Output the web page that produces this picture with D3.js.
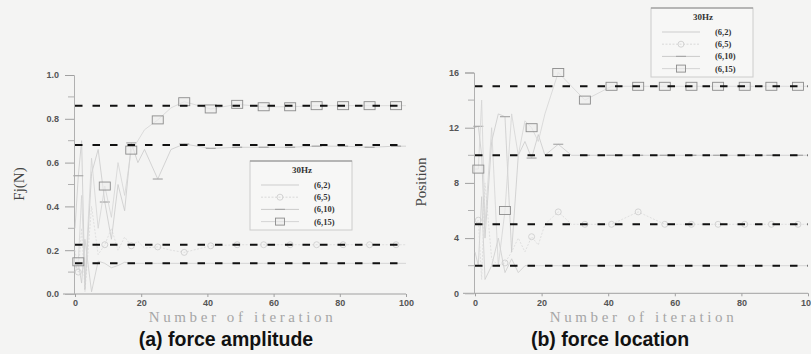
<!DOCTYPE html>
<html>
<head>
<meta charset="utf-8">
<script src="https://cdn.jsdelivr.net/npm/d3@7"></script>
<style>
  body { margin: 0; background: #f4f4f3; }
  svg { display: block; }
</style>
</head>
<body>
<div id="chart"></div>
<script>
// iterations at which the solver output was sampled
const iterations = [0, 1, 2, 3, 5, 7, 9, 11, 13, 15, 17, 19, 21, 25, 29, 33, 41, 49, 57, 65, 73, 81, 89, 97, 100];
// iterations that carry a marker symbol
const markerIterations = [1, 9, 17, 25, 33, 41, 49, 57, 65, 73, 81, 89, 97];

const seriesNames = ['(6,2)', '(6,5)', '(6,10)', '(6,15)'];
const legendTitle = '30Hz';

// (a) force amplitude Fj(N)
const amp62  = [0.12, 0.14, 0.05, 0.25, 0.01, 0.15, 0.14, 0.12, 0.13, 0.145, 0.14, 0.14, 0.14, 0.14, 0.14, 0.14, 0.14, 0.14, 0.14, 0.14, 0.14, 0.14, 0.14, 0.14, 0.14];
const amp65  = [0.20, 0.10, 0.30, 0.01, 0.40, 0.18, 0.225, 0.30, 0.20, 0.26, 0.22, 0.24, 0.21, 0.215, 0.20, 0.19, 0.22, 0.225, 0.225, 0.225, 0.225, 0.225, 0.225, 0.225, 0.225];
const amp610 = [0.30, 0.54, 0.70, 0.02, 0.55, 0.66, 0.42, 0.25, 0.50, 0.38, 0.69, 0.60, 0.66, 0.525, 0.66, 0.685, 0.665, 0.67, 0.67, 0.67, 0.675, 0.675, 0.67, 0.675, 0.675];
const amp615 = [0.10, 0.147, 0.45, 0.05, 0.62, 0.30, 0.493, 0.35, 0.60, 0.45, 0.657, 0.70, 0.75, 0.795, 0.85, 0.878, 0.845, 0.866, 0.855, 0.855, 0.86, 0.86, 0.86, 0.86, 0.86];
const ampTargets = [0.86, 0.68, 0.225, 0.14];
const ampTicks = [0, 0.2, 0.4, 0.6, 0.8, 1.0];
const ampMinor = [0.1, 0.3, 0.5, 0.7, 0.9];

// (b) force location
const pos62  = [3, 2, 7, 1, 2, 4, 1.5, 2.5, 1.5, 2, 2, 2, 2, 2, 2, 2, 2, 2, 2, 2, 2, 2, 2, 2, 2];
const pos65  = [5, 5.3, 1, 8, 2.5, 2, 2.2, 3, 4, 3, 4.1, 3.5, 5, 5.9, 5, 5, 5, 5.9, 5, 5, 5, 5, 5, 5, 5];
const pos610 = [12, 12.1, 10, 4, 11, 13, 12.8, 3, 10, 11, 9.8, 11.5, 10, 10.8, 10, 10, 10, 10, 10, 10, 10, 10, 10, 10, 10];
const pos615 = [9, 9, 14, 5, 12, 2, 6, 13, 10, 12.5, 12, 11, 13, 16, 15, 14, 15, 15, 15, 15, 15, 15, 15, 15, 15];
const posTargets = [15, 10, 5, 2];
const posTicks = [0, 4, 8, 12, 16];
const posMinor = [2, 6, 10, 14];

const xTicks = [0, 20, 40, 60, 80, 100];

const svg = d3.select('#chart').append('svg')
  .attr('width', 811)
  .attr('height', 354);

const lineColors = ['#cdcdcd', '#d9d9d9', '#cacaca', '#d4d4d4'];
const symbols = ['none', 'circle', 'bar', 'square'];

function drawMarker(g, kind, x, y, small) {
  if (kind === 'circle') {
    g.append('circle').attr('cx', x).attr('cy', y).attr('r', 3)
      .attr('fill', 'none').attr('stroke', '#cfcfcf').attr('stroke-width', 0.9);
  } else if (kind === 'bar') {
    g.append('line').attr('x1', x - 5).attr('x2', x + 5).attr('y1', y).attr('y2', y)
      .attr('stroke', '#a8a8a8').attr('stroke-width', 1.2);
  } else if (kind === 'square') {
    const w = small ? 9 : 11, h = small ? 7 : 8;
    g.append('rect').attr('x', x - w / 2).attr('y', y - h / 2).attr('width', w).attr('height', h)
      .attr('fill', '#ededed').attr('fill-opacity', 0.6)
      .attr('stroke', '#8c8c8c').attr('stroke-width', 0.9);
  }
}

function drawPanel(p) {
  const x = d3.scaleLinear().domain([0, 100]).range(p.xRange);
  const y = d3.scaleLinear().domain(p.yDomain).range(p.yRange);
  const g = svg.append('g');

  // x axis
  const xAxis = g.append('g')
    .attr('transform', `translate(0,${p.yRange[0]})`)
    .call(d3.axisBottom(x).tickValues(xTicks).tickFormat(d3.format('d')).tickSize(3).tickPadding(3));
  xAxis.select('.domain').remove();
  g.append('line')
    .attr('x1', x(0) - 12).attr('x2', x(100))
    .attr('y1', p.yRange[0]).attr('y2', p.yRange[0])
    .attr('stroke', '#a0a0a0').attr('stroke-width', 1);

  // y axis
  const yAxis = g.append('g')
    .attr('transform', `translate(${x(0) - 1},0)`)
    .call(d3.axisLeft(y).tickValues(p.yTicks).tickFormat(p.yFormat).tickSize(9).tickPadding(6));
  yAxis.select('.domain').attr('stroke', '#b0b0b0');
  yAxis.selectAll('.tick').filter(d => d === 0).select('line').remove();
  g.selectAll('.minor').data(p.yMinor).enter().append('line')
    .attr('x1', x(0) - 7).attr('x2', x(0) - 1)
    .attr('y1', d => y(d)).attr('y2', d => y(d))
    .attr('stroke', '#b0b0b0');

  [xAxis, yAxis].forEach(a => {
    a.selectAll('.tick line').attr('stroke', '#a0a0a0');
    a.selectAll('.tick text')
      .style('font-family', 'Liberation Sans, Arial, sans-serif')
      .style('font-size', '9px')
      .style('font-weight', 'bold')
      .attr('fill', '#555');
  });

  // series
  const line = d3.line().x(d => x(d[0])).y(d => y(d[1]));
  p.series.forEach((vals, i) => {
    const pts = iterations.map((it, k) => [it, vals[k]]);
    g.append('path').datum(pts)
      .attr('d', line)
      .attr('fill', 'none')
      .attr('stroke', lineColors[i])
      .attr('stroke-width', 0.8)
      .attr('stroke-dasharray', i === 1 ? '2,1.5' : null);
    pts.filter(d => markerIterations.includes(d[0]))
      .forEach(d => drawMarker(g, symbols[i], x(d[0]), y(d[1])));
  });

  // target values
  g.selectAll('.target').data(p.targets).enter().append('line')
    .attr('x1', x(0)).attr('x2', x(100))
    .attr('y1', d => y(d)).attr('y2', d => y(d))
    .attr('stroke', '#111').attr('stroke-width', 2)
    .attr('stroke-dasharray', '7.5,10');

  // axis titles
  g.append('text')
    .attr('transform', `translate(${p.yTitleX},${p.yTitleY}) rotate(-90)`)
    .attr('text-anchor', 'middle')
    .style('font-family', 'Liberation Serif, serif')
    .style('font-size', '15px')
    .attr('fill', '#444')
    .text(p.yTitle);

  g.append('text')
    .attr('x', (x(0) + x(100)) / 2 + 2)
    .attr('y', 322)
    .attr('text-anchor', 'middle')
    .style('font-family', 'Liberation Serif, serif')
    .style('font-size', '15px')
    .style('letter-spacing', '3.6px')
    .attr('fill', '#a6a6a6')
    .text('Number of iteration');

  g.append('text')
    .attr('x', p.captionX)
    .attr('y', 346)
    .attr('text-anchor', 'middle')
    .style('font-family', 'Liberation Sans, Arial, sans-serif')
    .style('font-size', '19.5px')
    .style('font-weight', 'bold')
    .attr('fill', '#111')
    .text(p.caption);

  // legend
  const lg = g.append('g').attr('transform', `translate(${p.legend[0]},${p.legend[1]})`);
  lg.append('rect').attr('width', 102).attr('height', 69)
    .attr('fill', '#f7f7f6').attr('stroke', '#cccccc');
  lg.append('line').attr('x1', 0).attr('x2', 102).attr('y1', 0).attr('y2', 0)
    .attr('stroke', '#8a8a8a').attr('stroke-width', 1.2);
  lg.append('text').attr('x', 52).attr('y', 12)
    .attr('text-anchor', 'middle')
    .style('font-family', 'Liberation Serif, serif')
    .style('font-size', '9px').style('font-weight', 'bold')
    .attr('fill', '#333').text(legendTitle);
  seriesNames.forEach((name, i) => {
    const ly = 24 + i * 12.2;
    lg.append('line').attr('x1', 11).attr('x2', 49).attr('y1', ly).attr('y2', ly)
      .attr('stroke', lineColors[i]).attr('stroke-width', 1)
      .attr('stroke-dasharray', i === 1 ? '2,1.5' : null);
    drawMarker(lg, symbols[i], 30, ly, true);
    lg.append('text').attr('x', 64).attr('y', ly + 3)
      .style('font-family', 'Liberation Serif, serif')
      .style('font-size', '8.5px').style('font-weight', 'bold')
      .attr('fill', '#333').text(name);
  });
}

drawPanel({
  xRange: [75, 406], yDomain: [0, 1], yRange: [294, 75],
  yTicks: ampTicks, yMinor: ampMinor, yFormat: d3.format('.1f'),
  series: [amp62, amp65, amp610, amp615], targets: ampTargets,
  yTitle: 'Fj(N)', yTitleX: 24, yTitleY: 184,
  caption: '(a) force amplitude', captionX: 226,
  legend: [250, 161]
});

drawPanel({
  xRange: [475, 808], yDomain: [0, 16], yRange: [293.3, 72.5],
  yTicks: posTicks, yMinor: posMinor, yFormat: d3.format('d'),
  series: [pos62, pos65, pos610, pos615], targets: posTargets,
  yTitle: 'Position', yTitleX: 426, yTitleY: 182,
  caption: '(b) force location', captionX: 610,
  legend: [651, 8]
});
</script>
</body>
</html>
